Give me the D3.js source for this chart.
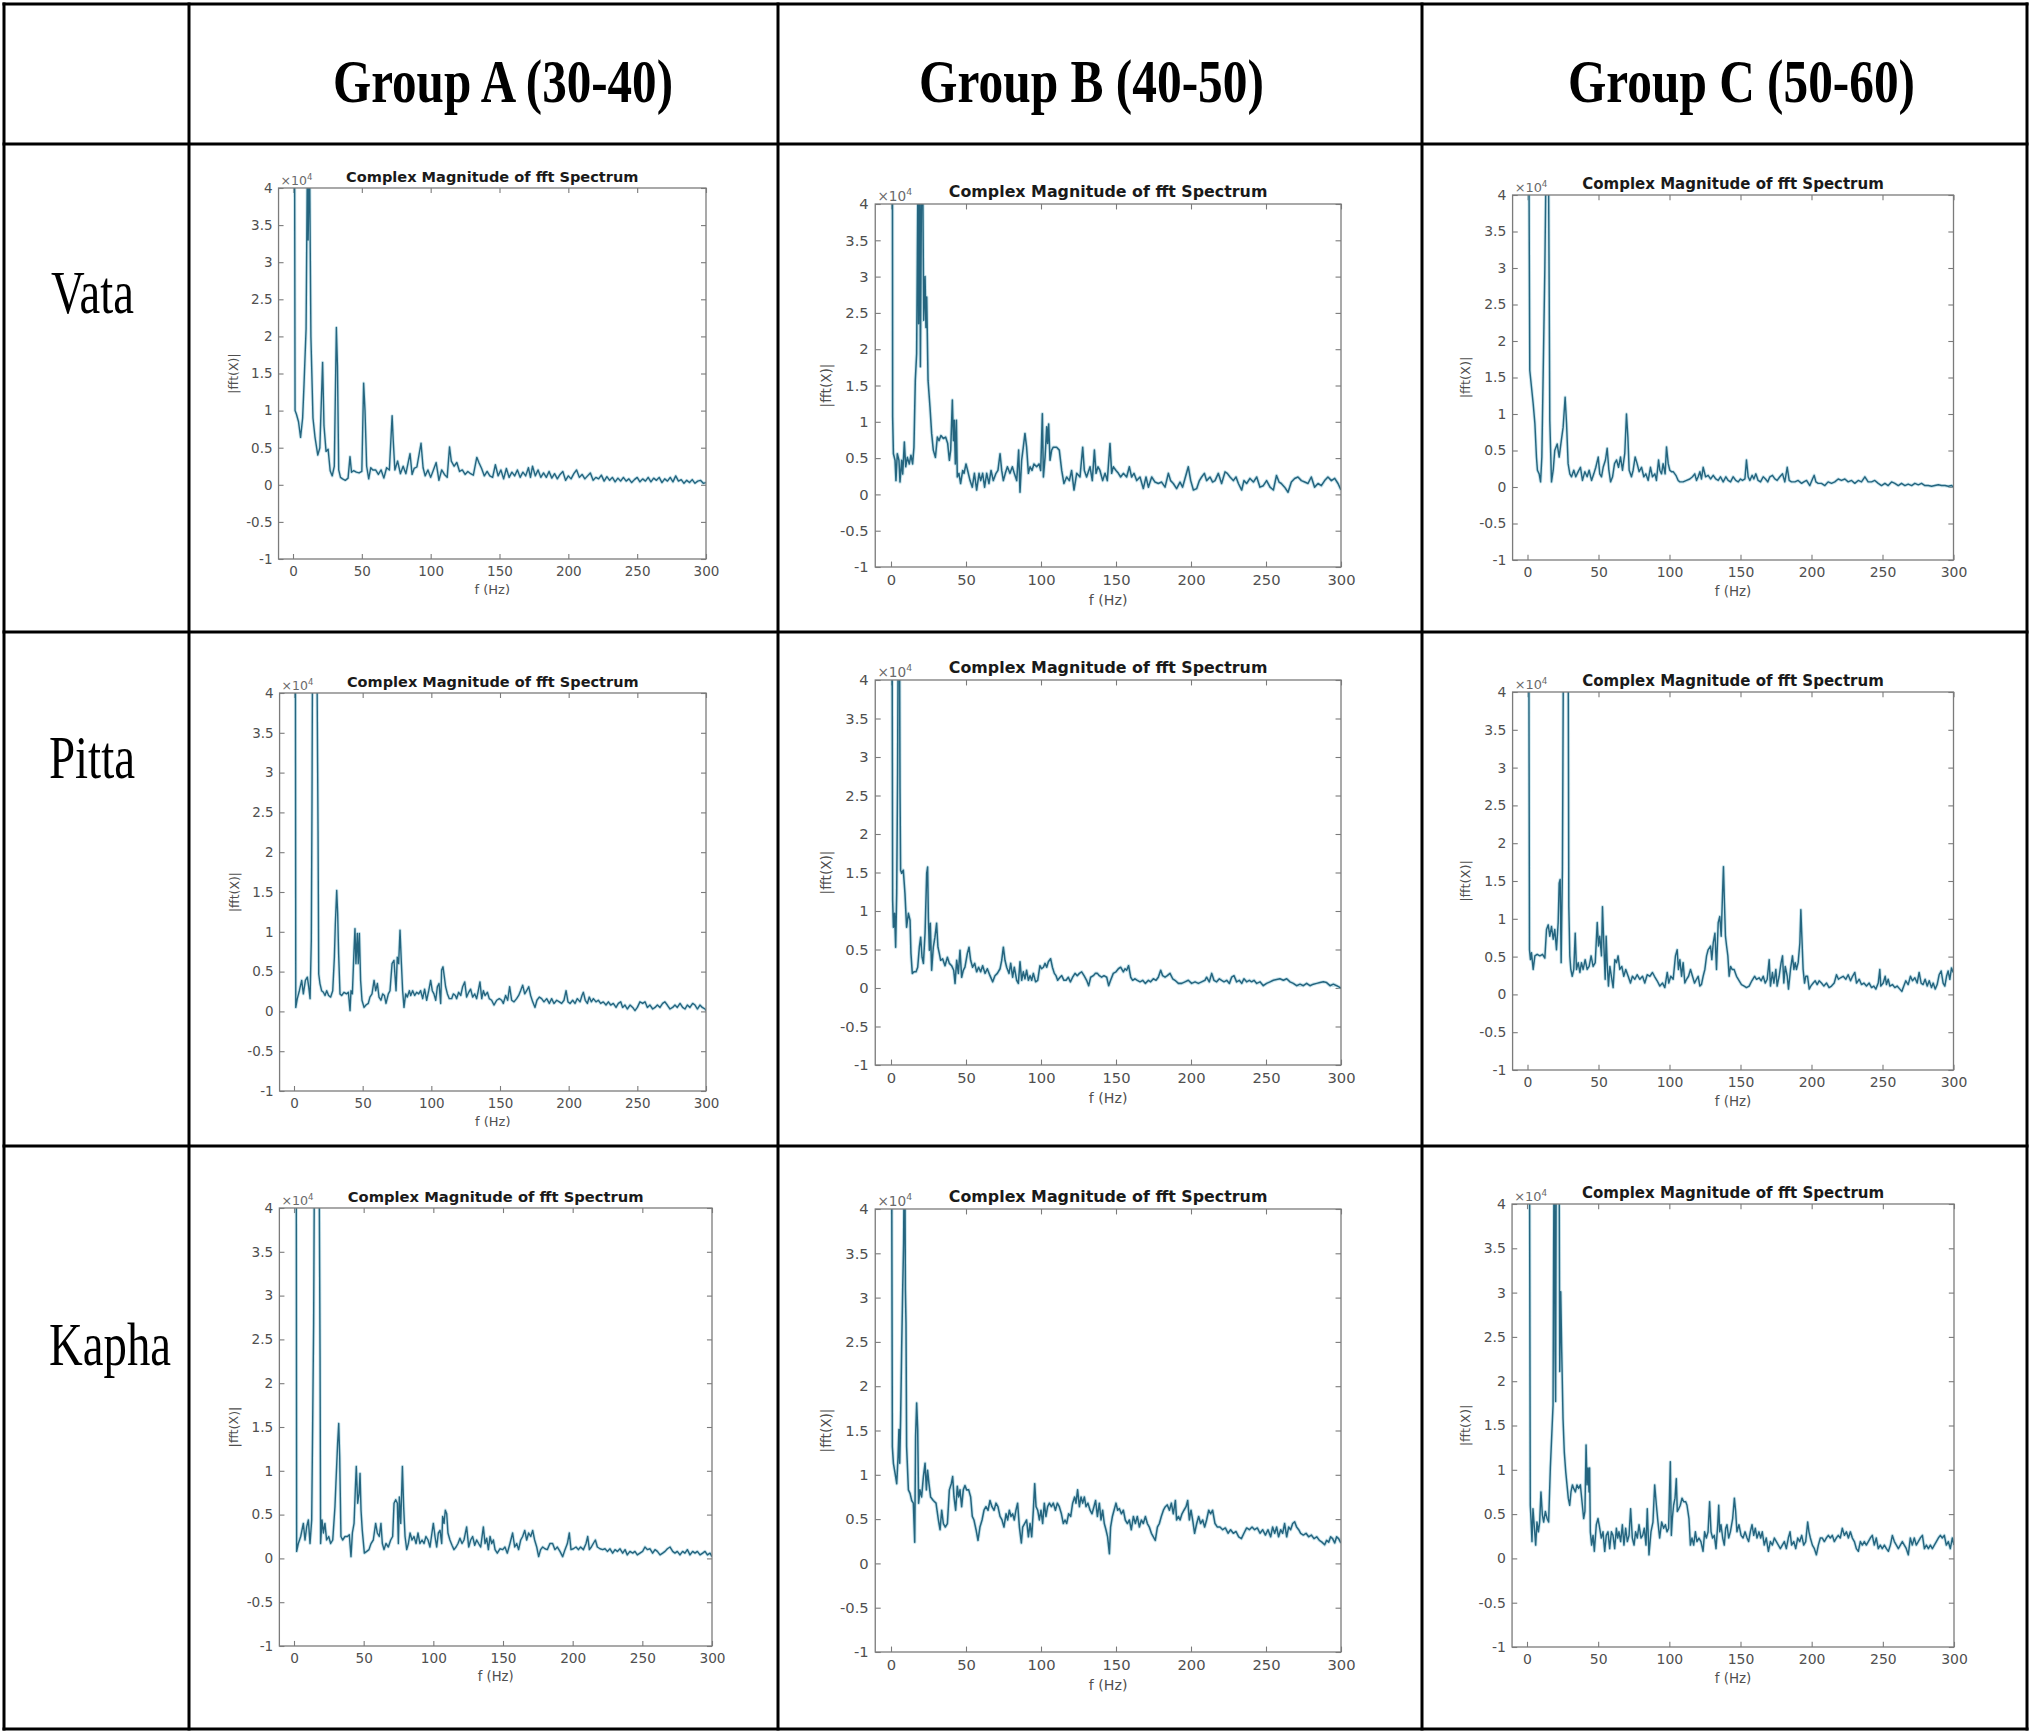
<!DOCTYPE html>
<html><head><meta charset="utf-8">
<script src="https://cdn.jsdelivr.net/npm/d3@7"></script>
<style>html,body{margin:0;padding:0;background:#fff;} svg{display:block;}</style>
</head><body>
<svg id="chart" width="2032" height="1734"></svg>
<script>
// ---------------- DATA ----------------
const groups = ["Group A (30-40)", "Group B (40-50)", "Group C (50-60)"];
const doshas = ["Vata", "Pitta", "Kapha"];
const yTicks = [-1, -0.5, 0, 0.5, 1, 1.5, 2, 2.5, 3, 3.5, 4];
const xTicks = [0, 50, 100, 150, 200, 250, 300];
const plotTitle = "Complex Magnitude of fft Spectrum";
const xLabel = "f (Hz)";
const yLabel = "|fft(X)|";
const yExponent = "4";

// [frequency Hz, |fft(X)| in units of 1e4]
const vataA = [[0,6],[1,6],[1.5,1.0],[2.5,0.95],[4,0.85],[5.5,0.64],[7,0.9],[8,1.35],[9.5,2.1],[10.5,4.5],[11,3.3],[12,4.5],[13,2.0],[14.5,0.9],[16,0.64],[18,0.4],[19.5,0.5],[21.5,1.65],[22.5,0.8],[24,0.45],[25.5,0.48],[27,0.19],[28.5,0.12],[30,0.25],[31.5,2.12],[32.3,1.6],[33.2,0.2],[34.5,0.1],[36,0.08],[38,0.06],[40,0.09],[41.4,0.38],[42.5,0.17],[44,0.19],[46,0.17],[48,0.16],[50,0.18],[51.3,1.37],[52.3,1.0],[53.5,0.25],[55,0.08],[56.5,0.23],[58,0.2],[60,0.2],[62,0.14],[64,0.2],[66,0.09],[68,0.23],[70,0.2],[72,0.93],[72.8,0.6],[74,0.2],[76,0.32],[78,0.15],[80,0.25],[82,0.15],[85,0.42],[86.5,0.14],[88,0.22],[90,0.24],[93,0.56],[94.5,0.23],[96,0.12],[98,0.2],[100,0.1],[102,0.2],[104,0.3],[106,0.06],[108,0.2],[110,0.14],[112,0.1],[113.7,0.51],[115,0.32],[117,0.25],[119,0.3],[121,0.18],[123,0.2],[125,0.14],[127,0.18],[129,0.15],[131,0.13],[133.5,0.37],[135,0.3],[137,0.22],[139,0.12],[141,0.18],[143,0.12],[145,0.1],[147,0.27],[149,0.12],[151,0.2],[153,0.08],[155,0.22],[157,0.1],[159,0.17],[161,0.12],[163,0.2],[165,0.1],[167,0.17],[169,0.12],[171,0.23],[172.5,0.1],[174,0.25],[176,0.12],[178,0.2],[180,0.1],[182,0.16],[184,0.1],[186,0.18],[188,0.09],[190,0.15],[192,0.08],[194,0.14],[196,0.18],[198,0.06],[200,0.12],[202,0.08],[204,0.15],[206,0.2],[208,0.1],[210,0.14],[212,0.08],[214,0.12],[216,0.16],[218,0.06],[220,0.1],[222,0.08],[224,0.13],[226,0.05],[228,0.11],[230,0.06],[232,0.1],[234,0.04],[236,0.09],[238,0.05],[240,0.1],[242,0.05],[244,0.08],[246,0.03],[248,0.07],[250,0.1],[252,0.04],[254,0.08],[256,0.05],[258,0.1],[260,0.04],[262,0.09],[264,0.06],[266,0.1],[268,0.03],[270,0.08],[272,0.05],[274,0.1],[276,0.04],[278,0.12],[280,0.05],[282,0.07],[284,0.02],[286,0.06],[288,0.03],[290,0.07],[292,0.02],[294,0.05],[296,0.06],[298,0.02],[300,0.03]];

const vataB = [[0,4.5],[0.9,6],[1.1,1.07],[1.6,0.56],[2.7,0.47],[3.3,0.19],[4.2,0.56],[5.3,0.47],[6,0.17],[7.1,0.47],[7.8,0.28],[8.9,0.72],[9.8,0.38],[10.9,0.51],[12.2,0.42],[13.3,0.54],[14.4,0.42],[15.3,0.65],[16.2,1.57],[17.1,1.94],[18,4.5],[18.4,2.35],[19.1,4.5],[19.6,1.76],[20.4,4.5],[21.1,4.5],[21.8,2.4],[22.7,3.0],[23.3,2.3],[23.8,2.72],[24.7,1.57],[26,1.2],[27.1,0.84],[28.2,0.61],[29.6,0.51],[30.9,0.79],[32,0.74],[33.3,0.81],[34.9,0.77],[36.4,0.79],[37.8,0.7],[38.9,0.47],[39.8,0.61],[40.9,1.3],[41.6,0.74],[42.2,1.02],[42.9,0.42],[43.6,1.02],[44.2,0.24],[45.3,0.29],[46.4,0.15],[47.8,0.33],[48.7,0.29],[50,0.42],[51.1,0.33],[52.7,0.19],[54.2,0.1],[55.6,0.29],[57.1,0.06],[58.7,0.29],[59.8,0.19],[61.1,0.29],[62.4,0.1],[63.8,0.29],[65.3,0.15],[66.7,0.33],[68.2,0.19],[70,0.29],[71.3,0.33],[72.7,0.56],[73.8,0.33],[74.9,0.19],[76.2,0.29],[77.6,0.38],[79.3,0.29],[80.9,0.38],[82.2,0.29],[83.8,0.19],[85.1,0.61],[86,0.03],[87.1,0.47],[88.2,0.65],[89.3,0.84],[90.4,0.65],[91.6,0.29],[92.7,0.38],[94,0.33],[95.3,0.42],[97.1,0.38],[98.7,0.42],[99.8,0.33],[100.9,1.11],[101.6,0.24],[102.7,0.51],[103.8,0.93],[104.4,0.7],[105.1,0.97],[106,0.47],[107.1,0.61],[108.2,0.65],[110.4,0.65],[112.2,0.61],[113.8,0.33],[115.3,0.15],[117.1,0.24],[118.9,0.19],[120.4,0.33],[122,0.06],[123.8,0.29],[126,0.24],[127.8,0.65],[128.9,0.33],[130.4,0.24],[132.7,0.38],[134.2,0.19],[135.6,0.61],[136.7,0.29],[138,0.38],[139.3,0.33],[141.1,0.19],[142.7,0.29],[144.2,0.19],[146,0.7],[147.1,0.29],[148.2,0.38],[150,0.33],[151.6,0.29],[153.1,0.24],[154.9,0.29],[157.1,0.24],[158.9,0.38],[160.4,0.24],[162,0.29],[163.8,0.19],[166,0.24],[168.2,0.08],[170,0.24],[171.6,0.1],[173.8,0.24],[176,0.17],[178.2,0.15],[180.4,0.17],[182.7,0.1],[184.9,0.29],[186.4,0.19],[188.2,0.15],[190.4,0.08],[192.7,0.17],[194.4,0.1],[196,0.22],[198.2,0.38],[199.8,0.19],[201.6,0.06],[203.8,0.08],[205.6,0.19],[207.1,0.24],[208.9,0.29],[210.4,0.19],[212.7,0.24],[214.4,0.17],[216,0.19],[218.2,0.29],[220.4,0.15],[222.7,0.31],[224.2,0.29],[226,0.24],[228.2,0.19],[230,0.24],[231.6,0.15],[233.8,0.06],[235.3,0.19],[237.1,0.15],[239.3,0.22],[241.6,0.17],[243.8,0.24],[246,0.1],[248.2,0.12],[250.4,0.19],[252.7,0.1],[254.9,0.06],[257,0.26],[258.7,0.17],[260.2,0.15],[262.4,0.1],[264.7,0.03],[266.9,0.17],[269.1,0.22],[271.3,0.24],[273.6,0.19],[275.8,0.17],[278,0.15],[280.2,0.24],[282.4,0.1],[284.7,0.15],[286.9,0.12],[289.1,0.19],[291.3,0.24],[293.6,0.19],[295.8,0.22],[298,0.15],[300,0.06]];

const vataC = [[0,5],[0.9,5],[1.6,1.6],[2.8,1.37],[4.0,1.14],[5.2,0.87],[6.3,0.41],[7.0,0.23],[8.2,0.18],[9.2,0.07],[10.1,0.41],[11.0,1.51],[12.2,2.97],[13.4,5],[14.6,5],[15.3,2.6],[15.7,0.91],[16.9,0.07],[18.1,0.23],[19.2,0.5],[20.9,0.59],[22.3,0.41],[23.5,0.59],[25.1,0.82],[26.5,1.23],[27.5,0.87],[28.6,0.32],[29.8,0.18],[31.0,0.14],[32.6,0.23],[34.0,0.14],[35.7,0.21],[37.3,0.27],[38.7,0.09],[40.4,0.21],[42.0,0.14],[43.4,0.23],[45.1,0.09],[46.7,0.18],[48.1,0.27],[49.8,0.41],[50.9,0.18],[52.1,0.14],[53.3,0.27],[54.9,0.37],[56.1,0.53],[57.3,0.23],[58.5,0.07],[59.9,0.14],[61.3,0.32],[62.7,0.37],[64.1,0.27],[65.5,0.41],[66.9,0.23],[68.5,0.46],[69.7,1.0],[70.7,0.68],[71.6,0.23],[73.2,0.14],[74.4,0.23],[75.8,0.41],[77.2,0.32],[78.6,0.21],[80.3,0.27],[81.9,0.14],[83.3,0.18],[85.0,0.09],[86.6,0.27],[88.0,0.14],[89.7,0.18],[90.8,0.09],[92.3,0.37],[93.2,0.23],[94.4,0.18],[95.5,0.32],[96.9,0.18],[97.9,0.55],[99.1,0.32],[100.2,0.23],[101.4,0.21],[102.6,0.21],[104.5,0.16],[106.1,0.09],[107.3,0.07],[109.6,0.07],[112.0,0.09],[114.3,0.11],[116.2,0.14],[117.8,0.18],[119.0,0.09],[120.2,0.14],[121.4,0.21],[122.5,0.11],[123.7,0.27],[125.4,0.14],[127.2,0.16],[128.9,0.11],[130.8,0.16],[132.6,0.11],[134.3,0.09],[135.9,0.14],[137.8,0.07],[139.7,0.14],[141.3,0.09],[143.0,0.07],[144.8,0.14],[146.7,0.09],[148.4,0.07],[150.0,0.11],[151.4,0.09],[153.1,0.11],[154.2,0.37],[155.4,0.14],[156.6,0.09],[158.2,0.16],[159.4,0.11],[160.8,0.18],[162.4,0.09],[164.1,0.07],[166.0,0.14],[167.6,0.11],[169.2,0.07],[170.7,0.14],[172.5,0.16],[174.2,0.11],[175.8,0.09],[177.7,0.14],[179.6,0.18],[181.2,0.07],[182.9,0.27],[184.3,0.09],[185.9,0.07],[188.3,0.07],[190.6,0.09],[193.0,0.05],[194.6,0.07],[196.5,0.09],[198.8,0.02],[200.7,0.11],[201.9,0.16],[203.1,0.07],[204.7,0.05],[207.0,0.05],[209.4,0.02],[211.7,0.07],[214.1,0.05],[216.4,0.07],[218.8,0.11],[221.1,0.09],[223.5,0.11],[225.8,0.07],[228.2,0.09],[230.5,0.05],[232.9,0.09],[235.2,0.07],[237.6,0.14],[239.9,0.07],[242.3,0.07],[244.6,0.09],[247.0,0.05],[249.3,0.02],[251.7,0.05],[254.0,0.02],[256.4,0.07],[258.7,0.05],[261.1,0.02],[263.4,0.05],[265.8,0.02],[268.1,0.04],[270.5,0.02],[272.8,0.05],[275.2,0.03],[277.5,0.05],[279.9,0.02],[282.2,0.02],[284.6,0.01],[286.9,0.02],[289.3,0.03],[291.6,0.02],[294.0,0.02],[296.3,0.01],[298.7,0.02],[300,0.0]];

const pittaA = [[0,5],[1.0,5],[1.3,0.05],[2.4,0.16],[3.9,0.26],[5.6,0.39],[6.8,0.22],[8.3,0.39],[9.7,0.43],[10.7,0.31],[11.7,0.16],[12.6,0.89],[13.1,2.61],[13.6,5],[15.0,5],[16.5,5],[17.5,2.27],[18.0,0.47],[18.9,0.35],[20.1,0.26],[21.4,0.24],[22.6,0.2],[23.8,0.26],[25.2,0.2],[26.7,0.18],[28.2,0.26],[29.4,0.68],[30.1,1.1],[31.1,1.52],[31.8,1.23],[32.5,0.72],[33.5,0.22],[34.7,0.2],[36.4,0.24],[38.3,0.22],[39.6,0.24],[40.8,0.01],[41.5,0.26],[42.5,0.22],[43.7,0.77],[44.4,1.04],[45.1,0.6],[46.1,0.98],[46.8,0.6],[47.6,0.98],[48.5,0.39],[49.5,0.14],[51.0,0.05],[52.4,0.08],[54.1,0.1],[55.3,0.18],[56.8,0.22],[58.3,0.39],[59.5,0.26],[60.7,0.35],[61.9,0.18],[63.3,0.14],[64.6,0.22],[65.8,0.2],[67.0,0.1],[68.7,0.22],[69.9,0.26],[71.4,0.6],[72.8,0.64],[74.3,0.26],[75.2,0.68],[76.2,0.6],[77.2,1.02],[78.2,0.6],[79.1,0.26],[80.1,0.05],[81.3,0.22],[82.5,0.18],[84.0,0.26],[85.0,0.2],[86.4,0.26],[87.9,0.2],[89.3,0.24],[90.8,0.22],[92.2,0.26],[93.7,0.16],[95.1,0.28],[96.6,0.14],[98.1,0.26],[99.5,0.39],[100.7,0.26],[101.9,0.22],[103.2,0.14],[104.4,0.31],[105.6,0.35],[106.8,0.1],[107.5,0.52],[108.5,0.56],[109.5,0.43],[110.4,0.31],[111.7,0.22],[113.1,0.16],[114.8,0.16],[116.0,0.22],[117.5,0.2],[118.4,0.16],[119.9,0.24],[121.4,0.2],[122.8,0.31],[124.3,0.37],[125.7,0.18],[127.2,0.24],[128.6,0.28],[130.1,0.18],[131.6,0.22],[133.0,0.16],[134.2,0.26],[135.4,0.37],[136.7,0.16],[137.9,0.26],[139.1,0.2],[140.8,0.24],[142.2,0.16],[143.9,0.14],[145.6,0.08],[147.6,0.14],[149.5,0.16],[151.2,0.14],[152.4,0.1],[154.1,0.2],[155.6,0.14],[157.0,0.31],[158.5,0.14],[160.2,0.12],[162.1,0.16],[163.6,0.2],[165.0,0.26],[166.5,0.33],[168.0,0.22],[169.4,0.26],[170.9,0.31],[172.3,0.2],[173.8,0.12],[175.5,0.05],[176.9,0.14],[178.6,0.18],[180.3,0.16],[182.0,0.12],[184.0,0.16],[185.9,0.1],[187.6,0.16],[189.3,0.1],[191.3,0.14],[193.2,0.12],[194.9,0.1],[196.6,0.14],[198.1,0.26],[199.5,0.12],[201.0,0.1],[202.9,0.14],[204.6,0.1],[206.3,0.16],[208.3,0.12],[209.7,0.2],[210.7,0.24],[212.1,0.14],[213.6,0.1],[215.0,0.18],[216.5,0.12],[218.0,0.16],[219.9,0.12],[221.6,0.14],[223.3,0.1],[225.2,0.12],[227.2,0.08],[228.9,0.12],[230.6,0.08],[232.5,0.1],[234.5,0.05],[236.2,0.1],[237.9,0.12],[239.3,0.05],[241.0,0.08],[242.7,0.03],[244.7,0.08],[246.6,0.05],[248.3,0.01],[250.0,0.05],[251.9,0.12],[253.9,0.1],[255.6,0.12],[257.3,0.05],[259.2,0.08],[261.2,0.03],[262.9,0.05],[264.6,0.08],[266.5,0.05],[268.4,0.1],[270.1,0.12],[271.8,0.08],[273.8,0.03],[275.7,0.05],[277.4,0.08],[279.1,0.05],[281.1,0.1],[283.0,0.05],[284.7,0.03],[286.4,0.08],[288.3,0.05],[290.3,0.1],[292.0,0.08],[293.7,0.03],[295.6,0.08],[297.3,0.05],[299.3,0.03],[300,0.01]];

const pittaB = [[0,5],[0.7,5],[1.1,1.14],[1.6,0.79],[2.4,0.97],[3.1,0.53],[3.8,1.23],[4.4,2.79],[4.9,5],[5.6,5],[6.0,2.6],[6.4,1.53],[7.1,1.49],[8.2,1.53],[9.3,1.23],[10.4,0.79],[11.6,0.97],[12.7,0.88],[13.3,0.45],[14.2,0.19],[15.3,0.21],[16.7,0.21],[17.8,0.27],[18.9,0.53],[19.8,0.66],[20.7,0.4],[21.6,0.32],[22.7,0.71],[23.8,1.49],[24.4,1.57],[24.9,0.92],[25.6,0.49],[26.2,0.84],[27.1,0.23],[28.2,0.53],[29.3,0.66],[30.4,0.84],[31.3,0.53],[32.2,0.45],[33.1,0.36],[34.4,0.38],[36.0,0.29],[37.6,0.4],[38.9,0.32],[40.4,0.29],[41.8,0.23],[42.7,0.06],[43.8,0.36],[44.9,0.19],[46.0,0.49],[47.1,0.14],[48.2,0.23],[49.3,0.27],[50.9,0.45],[52.0,0.53],[53.1,0.36],[54.4,0.27],[55.8,0.32],[57.1,0.21],[58.4,0.27],[59.8,0.21],[61.1,0.29],[62.7,0.19],[64.2,0.25],[66.0,0.16],[67.8,0.08],[69.3,0.16],[70.9,0.19],[72.7,0.25],[73.8,0.36],[74.9,0.53],[76.0,0.36],[77.1,0.27],[78.7,0.19],[79.8,0.32],[81.1,0.14],[82.2,0.27],[83.8,0.1],[84.9,0.06],[86.0,0.34],[87.1,0.1],[88.2,0.21],[89.3,0.12],[90.4,0.23],[91.6,0.1],[92.7,0.16],[93.8,0.1],[94.9,0.19],[96.4,0.08],[97.8,0.1],[99.3,0.29],[100.4,0.25],[101.6,0.27],[102.7,0.32],[103.8,0.27],[104.9,0.34],[106.4,0.38],[107.6,0.27],[108.9,0.19],[110.0,0.16],[111.1,0.1],[112.7,0.14],[113.8,0.16],[115.3,0.1],[116.7,0.1],[118.2,0.14],[119.6,0.08],[121.1,0.14],[122.7,0.19],[124.2,0.16],[125.6,0.19],[127.1,0.21],[128.7,0.16],[130.4,0.1],[131.8,0.03],[133.1,0.14],[134.9,0.16],[136.2,0.19],[137.6,0.19],[138.9,0.16],[140.4,0.14],[142.0,0.16],[143.8,0.14],[145.1,0.03],[146.4,0.1],[148.2,0.19],[150.0,0.21],[151.6,0.25],[153.1,0.27],[154.9,0.21],[156.0,0.25],[157.1,0.23],[158.4,0.29],[159.8,0.14],[161.1,0.1],[162.7,0.12],[164.2,0.1],[166.0,0.08],[167.8,0.1],[169.6,0.06],[171.6,0.1],[173.1,0.08],[174.9,0.12],[176.7,0.1],[178.2,0.14],[179.8,0.23],[181.1,0.16],[182.7,0.14],[184.2,0.16],[186.0,0.19],[187.8,0.12],[189.3,0.1],[191.6,0.06],[193.8,0.06],[196.0,0.08],[198.2,0.1],[200.4,0.06],[202.7,0.08],[204.9,0.06],[207.1,0.08],[209.3,0.1],[210.4,0.14],[212.2,0.08],[213.8,0.19],[215.3,0.1],[217.1,0.08],[218.9,0.12],[220.4,0.1],[222.0,0.08],[223.8,0.1],[225.6,0.06],[227.1,0.14],[228.7,0.16],[230.4,0.08],[232.2,0.1],[233.8,0.06],[235.3,0.12],[237.1,0.08],[238.9,0.1],[240.4,0.08],[242.0,0.1],[243.8,0.06],[246.0,0.08],[248.2,0.03],[250.4,0.06],[252.7,0.08],[254.9,0.1],[257.1,0.11],[259.3,0.12],[261.6,0.1],[263.8,0.12],[266.0,0.08],[268.2,0.06],[270.4,0.03],[272.7,0.05],[274.9,0.03],[277.1,0.06],[279.3,0.03],[281.6,0.05],[283.8,0.06],[286.0,0.07],[288.2,0.08],[290.4,0.07],[292.7,0.03],[294.9,0.05],[297.1,0.03],[300,0.0]];

const pittaC = [[0,5],[0.9,5],[1.4,0.59],[2.1,0.46],[2.8,0.55],[4.0,0.33],[5.2,0.51],[6.8,0.53],[8.7,0.51],[10.6,0.53],[12.2,0.48],[13.4,0.86],[14.6,0.92],[15.7,0.77],[16.9,0.9],[18.1,0.73],[19.2,0.86],[20.4,0.59],[21.6,0.95],[22.3,1.47],[23.0,1.52],[23.7,0.42],[24.6,1.65],[25.4,5],[26.5,5],[27.5,5],[28.6,5],[29.1,1.16],[29.8,0.51],[30.5,0.33],[31.5,0.24],[32.6,0.33],[33.6,0.81],[34.5,0.33],[35.7,0.42],[36.9,0.29],[38.0,0.42],[39.2,0.33],[40.6,0.46],[42.0,0.33],[43.4,0.37],[44.8,0.51],[46.2,0.37],[47.7,0.42],[49.1,0.95],[50.0,0.64],[50.9,0.77],[52.1,0.51],[52.8,1.16],[53.8,0.64],[54.7,0.2],[55.4,0.77],[56.1,0.42],[57.0,0.11],[58.0,0.37],[59.4,0.2],[60.3,0.09],[61.5,0.46],[62.7,0.42],[63.8,0.51],[65.0,0.33],[66.4,0.37],[67.8,0.24],[69.2,0.33],[70.9,0.24],[72.5,0.15],[73.9,0.24],[75.6,0.2],[77.2,0.26],[79.1,0.2],[81.0,0.24],[82.6,0.15],[84.3,0.26],[86.2,0.24],[88.0,0.29],[89.4,0.24],[91.3,0.18],[93.2,0.11],[95.1,0.15],[96.7,0.09],[98.4,0.29],[99.5,0.15],[100.9,0.24],[102.6,0.2],[104.2,0.51],[105.4,0.59],[106.3,0.33],[107.3,0.46],[108.5,0.24],[109.6,0.42],[110.8,0.15],[112.0,0.2],[113.4,0.24],[114.8,0.33],[116.2,0.24],[117.6,0.15],[119.0,0.2],[120.2,0.24],[121.4,0.11],[122.5,0.13],[123.7,0.24],[124.9,0.33],[126.1,0.51],[127.2,0.59],[128.9,0.64],[129.8,0.46],[130.8,0.68],[132.0,0.81],[133.1,0.33],[134.3,0.95],[135.4,1.03],[136.4,0.77],[137.3,1.3],[138.0,1.69],[138.7,1.21],[139.4,0.77],[140.2,0.64],[141.1,0.51],[142.0,0.24],[143.0,0.37],[144.1,0.33],[145.5,0.33],[147.2,0.24],[149.1,0.18],[150.7,0.13],[152.6,0.11],[154.2,0.09],[156.1,0.11],[158.0,0.18],[159.9,0.24],[161.3,0.2],[163.1,0.22],[164.6,0.18],[166.0,0.24],[167.4,0.15],[168.8,0.2],[170.2,0.46],[171.1,0.11],[172.5,0.29],[173.5,0.15],[174.9,0.33],[175.8,0.11],[177.2,0.24],[178.6,0.42],[179.6,0.51],[180.5,0.15],[181.5,0.37],[182.9,0.24],[183.8,0.07],[185.2,0.33],[186.6,0.51],[187.6,0.33],[188.5,0.42],[189.4,0.33],[190.6,0.42],[191.8,0.68],[192.5,1.12],[193.2,0.77],[194.1,0.33],[195.1,0.15],[196.0,0.24],[197.2,0.24],[198.4,0.07],[199.5,0.11],[201.2,0.15],[202.6,0.18],[204.0,0.13],[205.4,0.18],[207.0,0.15],[208.7,0.11],[210.6,0.15],[212.4,0.09],[214.1,0.11],[216.0,0.15],[217.6,0.26],[219.0,0.2],[220.4,0.22],[222.3,0.24],[224.2,0.2],[225.8,0.26],[227.5,0.18],[228.9,0.24],[230.5,0.29],[231.7,0.15],[233.6,0.2],[235.2,0.13],[236.9,0.15],[238.7,0.11],[240.6,0.15],[242.3,0.09],[243.9,0.11],[245.3,0.07],[247.0,0.15],[248.1,0.33],[248.8,0.11],[250.5,0.15],[251.9,0.24],[252.8,0.13],[254.0,0.2],[255.2,0.11],[257.0,0.13],[258.7,0.09],[260.3,0.11],[262.2,0.07],[263.6,0.04],[265.0,0.11],[266.4,0.18],[268.1,0.13],[269.7,0.24],[271.1,0.18],[272.8,0.22],[274.4,0.15],[275.8,0.29],[277.2,0.15],[278.6,0.13],[280.0,0.2],[281.5,0.11],[282.9,0.18],[284.5,0.09],[285.7,0.15],[287.1,0.07],[288.5,0.13],[289.9,0.26],[291.3,0.31],[292.7,0.15],[293.9,0.11],[295.1,0.24],[296.2,0.31],[297.4,0.2],[298.6,0.35],[299.8,0.29]];

const kaphaA = [[0,5],[1.6,5],[1.9,0.08],[3.1,0.17],[4.8,0.25],[6.7,0.4],[7.9,0.21],[9.1,0.36],[10.3,0.44],[11.5,0.17],[12.7,0.44],[13.4,1.54],[14.1,2.69],[14.8,5],[16.3,5],[17.9,5],[18.7,2.3],[19.1,0.17],[20.1,0.44],[21.1,0.29],[22.2,0.4],[23.4,0.21],[24.9,0.25],[26.3,0.17],[27.8,0.21],[29.4,0.59],[30.1,0.86],[31.3,1.31],[32.1,1.54],[32.8,1.16],[33.7,0.25],[34.9,0.21],[36.6,0.25],[38.3,0.25],[39.7,0.27],[40.9,0.02],[41.9,0.29],[43.1,0.4],[44.0,0.78],[44.7,1.05],[45.7,0.63],[46.7,0.74],[47.4,0.97],[48.1,0.55],[49.0,0.32],[50.5,0.06],[52.2,0.08],[53.8,0.1],[55.3,0.17],[56.9,0.21],[58.6,0.4],[59.8,0.29],[61.2,0.25],[62.4,0.4],[63.4,0.17],[64.6,0.1],[66.0,0.17],[67.7,0.13],[69.4,0.21],[70.8,0.25],[71.8,0.63],[73.0,0.67],[74.2,0.63],[74.9,0.17],[75.6,0.7],[76.6,0.4],[77.8,1.05],[78.7,0.59],[79.7,0.25],[80.9,0.1],[82.1,0.17],[83.3,0.29],[84.7,0.21],[86.1,0.25],[87.6,0.17],[89.0,0.29],[90.4,0.17],[91.9,0.21],[93.3,0.17],[94.7,0.25],[96.2,0.21],[97.6,0.13],[99.0,0.29],[100.0,0.4],[101.2,0.25],[102.4,0.13],[103.6,0.29],[104.8,0.32],[106.0,0.17],[106.7,0.48],[107.7,0.4],[108.6,0.55],[109.6,0.51],[110.5,0.29],[111.9,0.21],[113.4,0.15],[114.8,0.1],[116.3,0.13],[117.7,0.17],[119.1,0.23],[120.6,0.17],[122.0,0.21],[123.9,0.36],[125.4,0.13],[126.8,0.21],[128.2,0.25],[129.7,0.15],[131.1,0.21],[132.5,0.17],[134.0,0.13],[135.9,0.36],[137.1,0.17],[138.3,0.23],[139.5,0.1],[140.7,0.25],[141.9,0.17],[143.1,0.21],[144.3,0.1],[145.9,0.06],[147.8,0.11],[149.8,0.1],[151.4,0.13],[153.1,0.06],[155.0,0.17],[156.9,0.29],[158.4,0.13],[159.8,0.17],[161.2,0.1],[162.7,0.21],[164.1,0.25],[165.6,0.32],[167.0,0.21],[168.4,0.29],[169.9,0.25],[171.3,0.32],[172.7,0.21],[174.2,0.13],[175.6,0.02],[177.0,0.1],[178.5,0.13],[180.1,0.11],[181.8,0.1],[183.7,0.17],[185.6,0.17],[187.3,0.1],[189.0,0.13],[190.9,0.08],[192.8,0.02],[194.5,0.1],[196.2,0.17],[197.6,0.29],[198.8,0.1],[200.5,0.11],[202.4,0.13],[204.1,0.1],[205.7,0.13],[207.7,0.1],[209.6,0.17],[210.8,0.25],[212.0,0.1],[213.4,0.13],[214.8,0.17],[216.3,0.21],[217.7,0.13],[219.6,0.11],[221.5,0.1],[223.2,0.11],[224.9,0.08],[226.8,0.11],[228.7,0.06],[230.4,0.1],[232.1,0.08],[234.0,0.11],[235.9,0.06],[237.6,0.1],[239.2,0.04],[241.1,0.08],[243.1,0.06],[244.7,0.08],[246.4,0.04],[248.3,0.06],[250.2,0.08],[251.9,0.13],[253.6,0.1],[255.5,0.11],[257.4,0.06],[259.1,0.1],[260.8,0.08],[262.7,0.04],[264.6,0.06],[266.3,0.08],[268.0,0.11],[269.9,0.13],[271.8,0.08],[273.4,0.06],[275.1,0.08],[277.0,0.04],[278.9,0.08],[280.6,0.06],[282.3,0.1],[284.2,0.04],[286.1,0.08],[287.8,0.06],[289.5,0.08],[291.4,0.04],[293.3,0.06],[295.0,0.08],[296.7,0.04],[298.6,0.06],[300,0.02]];

const kaphaB = [[0,5],[0.4,5],[0.9,1.32],[1.6,1.13],[2.7,1.02],[3.8,0.9],[4.7,1.2],[5.3,1.51],[5.8,1.13],[6.4,1.62],[7.1,2.41],[7.8,3.09],[8.4,3.61],[9.1,5],[9.6,3.09],[10.0,2.71],[10.4,1.32],[11.6,0.83],[12.7,0.79],[13.8,0.71],[14.9,0.68],[15.8,0.24],[16.4,1.43],[17.1,1.81],[17.8,1.51],[18.4,0.68],[19.3,0.83],[20.4,0.75],[21.6,0.98],[22.7,1.13],[23.6,0.83],[24.4,1.05],[25.3,0.9],[26.4,0.75],[28.2,0.71],[30.0,0.68],[31.6,0.49],[32.7,0.38],[33.8,0.6],[34.9,0.45],[36.2,0.41],[37.6,0.45],[38.9,0.83],[40.2,0.9],[41.1,0.98],[42.0,0.75],[43.1,0.6],[44.2,0.87],[45.1,0.75],[46.0,0.83],[47.1,0.64],[48.2,0.83],[49.3,0.88],[50.4,0.83],[51.8,0.83],[53.1,0.75],[54.2,0.53],[55.3,0.49],[56.7,0.38],[58.0,0.26],[59.3,0.41],[60.7,0.49],[62.0,0.6],[63.3,0.64],[64.7,0.6],[66.0,0.71],[67.3,0.64],[68.7,0.6],[70.0,0.68],[71.3,0.64],[72.7,0.53],[74.0,0.49],[75.3,0.41],[76.7,0.56],[77.8,0.49],[78.9,0.6],[80.0,0.53],[81.1,0.56],[82.2,0.49],[83.3,0.6],[84.4,0.68],[85.6,0.41],[86.9,0.23],[87.8,0.41],[89.1,0.45],[90.4,0.49],[91.6,0.3],[92.7,0.45],[93.8,0.3],[94.9,0.6],[95.8,0.9],[96.7,0.64],[97.8,0.6],[98.9,0.49],[100.0,0.6],[101.1,0.45],[102.2,0.68],[103.3,0.53],[104.4,0.64],[105.6,0.68],[106.9,0.64],[108.2,0.68],[109.6,0.6],[110.9,0.68],[112.2,0.64],[113.6,0.56],[114.9,0.45],[116.0,0.49],[117.1,0.45],[118.4,0.56],[119.8,0.53],[121.1,0.68],[122.4,0.75],[123.3,0.68],[124.4,0.83],[125.6,0.64],[126.7,0.75],[127.8,0.68],[128.9,0.75],[130.0,0.64],[131.3,0.68],[132.7,0.6],[134.0,0.56],[135.3,0.64],[136.4,0.71],[137.6,0.53],[138.9,0.68],[140.0,0.49],[141.1,0.6],[142.2,0.45],[143.3,0.38],[144.4,0.3],[145.6,0.11],[146.4,0.41],[147.6,0.53],[148.7,0.6],[150.0,0.68],[151.1,0.6],[152.2,0.62],[153.6,0.56],[154.9,0.6],[156.2,0.49],[157.6,0.45],[158.9,0.49],[160.2,0.38],[161.6,0.53],[162.9,0.45],[164.2,0.53],[165.6,0.41],[166.9,0.49],[168.2,0.45],[169.6,0.53],[170.9,0.45],[172.2,0.41],[173.6,0.34],[174.9,0.3],[176.2,0.26],[177.6,0.41],[178.9,0.45],[180.2,0.53],[181.6,0.6],[182.9,0.64],[184.2,0.66],[185.6,0.6],[186.9,0.68],[188.2,0.56],[189.6,0.71],[190.4,0.49],[191.6,0.53],[192.7,0.49],[194.0,0.56],[195.3,0.6],[196.7,0.64],[197.8,0.71],[198.9,0.49],[200.0,0.6],[201.1,0.49],[202.4,0.34],[203.8,0.45],[205.1,0.53],[206.4,0.45],[207.8,0.49],[209.1,0.41],[210.4,0.49],[211.8,0.6],[213.1,0.56],[214.4,0.6],[216.0,0.45],[217.6,0.41],[219.3,0.41],[221.1,0.38],[222.9,0.4],[224.7,0.34],[226.4,0.38],[228.2,0.34],[230.0,0.36],[231.8,0.3],[233.6,0.28],[235.3,0.34],[237.1,0.4],[238.9,0.38],[240.7,0.41],[242.4,0.38],[244.2,0.4],[246.0,0.34],[247.8,0.38],[249.6,0.32],[251.3,0.38],[253.1,0.3],[254.4,0.41],[255.8,0.34],[257.1,0.41],[258.4,0.3],[259.8,0.38],[261.1,0.34],[262.4,0.45],[263.8,0.3],[265.1,0.41],[266.4,0.38],[267.8,0.45],[269.1,0.47],[270.4,0.41],[271.8,0.38],[273.1,0.34],[274.9,0.32],[276.7,0.34],[278.4,0.3],[280.2,0.32],[282.0,0.28],[283.8,0.3],[285.6,0.26],[287.3,0.24],[289.1,0.21],[290.4,0.26],[291.8,0.24],[293.1,0.3],[294.4,0.28],[295.8,0.23],[297.1,0.3],[298.4,0.28],[300,0.23]];

const kaphaC = [[0,5],[1.7,5],[2.3,0.6],[2.8,0.45],[3.5,0.19],[4.2,0.56],[5.2,0.34],[6.1,0.15],[7.0,0.41],[8.0,0.3],[8.9,0.41],[9.8,0.75],[10.8,0.49],[11.7,0.41],[12.9,0.53],[14.1,0.45],[15.2,0.41],[16.4,1.02],[17.6,1.47],[18.3,1.73],[18.7,3.46],[19.2,5],[19.7,2.33],[20.1,1.77],[20.6,5],[21.5,5],[22.5,5],[23.0,2.11],[23.7,3.01],[24.4,2.33],[25.3,1.58],[26.2,1.2],[27.2,0.98],[28.1,0.83],[29.0,0.68],[30.0,0.6],[30.9,0.75],[31.9,0.83],[32.8,0.79],[34.0,0.75],[35.1,0.83],[36.3,0.79],[37.5,0.83],[38.9,0.6],[39.8,0.45],[40.7,0.53],[41.5,1.28],[42.2,0.83],[42.9,1.02],[43.6,0.75],[44.0,1.02],[44.5,0.3],[45.4,0.15],[46.4,0.26],[47.3,0.08],[48.7,0.38],[49.9,0.45],[51.1,0.34],[52.2,0.23],[53.4,0.3],[54.6,0.08],[55.7,0.26],[56.9,0.3],[58.1,0.11],[59.3,0.3],[60.4,0.26],[61.6,0.11],[62.8,0.34],[63.7,0.23],[64.6,0.3],[65.8,0.19],[67.0,0.38],[68.1,0.15],[69.3,0.34],[70.5,0.19],[71.7,0.26],[72.8,0.56],[74.0,0.23],[75.2,0.15],[76.3,0.3],[77.5,0.23],[78.7,0.38],[80.1,0.23],[81.3,0.26],[82.4,0.34],[83.6,0.15],[84.5,0.56],[85.7,0.04],[87.1,0.3],[88.5,0.41],[89.7,0.83],[90.9,0.6],[92.0,0.41],[93.2,0.23],[94.6,0.41],[96.0,0.34],[97.2,0.38],[98.4,0.3],[99.5,0.34],[100.7,1.09],[101.4,0.26],[102.1,0.45],[103.0,0.6],[104.0,0.68],[104.9,0.9],[105.6,0.53],[106.6,0.56],[107.7,0.6],[108.9,0.68],[110.1,0.64],[111.5,0.64],[112.4,0.6],[113.8,0.45],[114.8,0.15],[115.9,0.23],[117.1,0.15],[118.3,0.3],[119.4,0.19],[120.8,0.23],[122.2,0.19],[123.7,0.08],[124.8,0.3],[126.0,0.23],[127.2,0.3],[128.3,0.64],[129.3,0.3],[130.4,0.23],[131.6,0.26],[132.8,0.11],[134.0,0.38],[134.7,0.6],[135.4,0.3],[136.3,0.38],[137.5,0.23],[138.6,0.15],[139.6,0.34],[140.5,0.38],[141.7,0.23],[142.9,0.3],[144.5,0.45],[145.7,0.68],[146.6,0.53],[147.5,0.3],[148.9,0.38],[150.4,0.26],[151.8,0.23],[153.2,0.3],[154.6,0.23],[155.7,0.19],[156.9,0.3],[158.1,0.38],[159.3,0.26],[160.4,0.34],[161.6,0.23],[163.0,0.3],[164.2,0.23],[165.3,0.3],[166.7,0.15],[168.1,0.23],[169.6,0.08],[171.0,0.19],[172.4,0.15],[173.8,0.23],[175.2,0.19],[176.6,0.15],[178.0,0.11],[179.4,0.15],[180.8,0.19],[182.2,0.11],[183.6,0.23],[184.8,0.3],[185.9,0.15],[187.4,0.19],[188.8,0.11],[190.2,0.23],[191.6,0.19],[193.0,0.26],[194.4,0.15],[195.8,0.19],[197.2,0.41],[198.1,0.3],[199.1,0.23],[200.5,0.15],[201.9,0.11],[203.3,0.04],[204.7,0.15],[206.1,0.23],[207.5,0.23],[208.9,0.19],[210.3,0.23],[211.7,0.26],[213.1,0.23],[214.5,0.26],[215.9,0.19],[217.3,0.23],[218.7,0.26],[220.1,0.23],[221.5,0.34],[223.0,0.26],[224.4,0.3],[225.8,0.23],[227.2,0.3],[228.6,0.23],[230.0,0.19],[231.4,0.11],[232.8,0.08],[234.2,0.19],[235.6,0.15],[237.0,0.19],[238.4,0.15],[239.8,0.19],[241.2,0.23],[242.6,0.26],[244.0,0.15],[245.4,0.23],[246.8,0.11],[248.2,0.15],[249.6,0.11],[251.1,0.15],[252.5,0.11],[253.9,0.08],[255.3,0.15],[256.7,0.26],[258.1,0.19],[259.5,0.15],[260.9,0.11],[262.3,0.15],[263.7,0.19],[265.1,0.15],[266.5,0.11],[267.9,0.04],[269.3,0.23],[270.7,0.15],[272.1,0.23],[273.5,0.15],[274.9,0.19],[276.3,0.23],[277.8,0.26],[279.2,0.11],[280.6,0.15],[282.0,0.11],[283.4,0.15],[284.8,0.11],[286.2,0.15],[287.6,0.19],[289.0,0.23],[290.4,0.26],[291.8,0.23],[293.2,0.26],[294.6,0.15],[296.0,0.19],[297.4,0.11],[298.8,0.23],[300,0.15]];

const seriesGrid = [[vataA, vataB, vataC], [pittaA, pittaB, pittaC], [kaphaA, kaphaB, kaphaC]];

// ---------------- LAYOUT ----------------
const colLines = [4, 189, 778, 1422, 2027];
const rowLines = [4, 144, 632, 1146, 1729];
const headerPos = [{x:333, w:340}, {x:919, w:345}, {x:1568, w:347}];
const headerBaseline = 102;
const rowLabelPos = [{x:51, y:313, w:83}, {x:49, y:778, w:86}, {x:49, y:1365, w:122}];
// pixel positions of f=0, f=300, |X|=4 and |X|=-1 for each panel
const panelGeom = [
  [{x0:293, x300:706, y4:188, ym1:559}, {x0:891, x300:1341, y4:204, ym1:567}, {x0:1527.5, x300:1953.5, y4:195, ym1:560}],
  [{x0:294, x300:706, y4:693, ym1:1091}, {x0:891, x300:1341, y4:680, ym1:1065}, {x0:1527.5, x300:1953.5, y4:692, ym1:1070}],
  [{x0:294, x300:712, y4:1208, ym1:1646}, {x0:891, x300:1341, y4:1209, ym1:1652}, {x0:1527, x300:1954, y4:1204, ym1:1647}]
];
const X_MIN = -10.5;
const LINE_COLOR = "#25657f";
const HALO_COLOR = "#9fd0de";
const AXIS_COLOR = "#7b7b7b";
const TICK_TEXT = "#4f4f4f";
const SANS = "'DejaVu Sans', 'Liberation Sans', sans-serif";
const SERIF = "'Liberation Serif', 'Times New Roman', serif";

const svg = d3.select("#chart");
svg.append("rect").attr("width", 2032).attr("height", 1734).attr("fill", "#fff");

// ---------------- PANELS ----------------
let clipId = 0;
seriesGrid.forEach((rowSeries, r) => {
  rowSeries.forEach((data, c) => {
    const g0 = panelGeom[r][c];
    const x = d3.scaleLinear().domain([0, 300]).range([g0.x0, g0.x300]);
    const y = d3.scaleLinear().domain([-1, 4]).range([g0.ym1, g0.y4]);
    const left = x(X_MIN), right = x(300), top = y(4), bottom = y(-1);
    const w = right - left;
    const k = w / 427;
    const g = svg.append("g");

    const cid = "clip" + (clipId++);
    g.append("clipPath").attr("id", cid).append("rect")
      .attr("x", left).attr("y", top).attr("width", w).attr("height", bottom - top);

    // axes
    const tickLen = 5 * k;
    const fs = 13.5 * k;
    const axL = g.append("g").attr("transform", `translate(${left},0)`)
      .call(d3.axisLeft(y).tickValues(yTicks).tickSizeInner(-tickLen).tickSizeOuter(0).tickPadding(6 * k)
        .tickFormat(d => String(d)));
    const axR = g.append("g").attr("transform", `translate(${right},0)`)
      .call(d3.axisRight(y).tickValues(yTicks).tickSizeInner(-tickLen).tickSizeOuter(0).tickFormat(""));
    const axB = g.append("g").attr("transform", `translate(0,${bottom})`)
      .call(d3.axisBottom(x).tickValues(xTicks).tickSizeInner(-tickLen).tickSizeOuter(0).tickPadding(7 * k)
        .tickFormat(d => String(d)));
    const axT = g.append("g").attr("transform", `translate(0,${top})`)
      .call(d3.axisTop(x).tickValues(xTicks).tickSizeInner(-tickLen).tickSizeOuter(0).tickFormat(""));
    [axL, axR, axB, axT].forEach(a => {
      a.select(".domain").remove();
      a.selectAll("line").attr("stroke", AXIS_COLOR).attr("stroke-width", 1.1);
      a.selectAll("text").attr("fill", TICK_TEXT).style("font-family", SANS).style("font-size", fs + "px");
    });
    axB.selectAll("text").attr("dy", "0.71em");

    // data line (soft halo + core)
    const line = d3.line().x(d => x(d[0])).y(d => y(d[1]));
    g.append("path").datum(data).attr("clip-path", `url(#${cid})`)
      .attr("d", line).attr("fill", "none").attr("stroke", HALO_COLOR).attr("stroke-opacity", 0.55)
      .attr("stroke-width", 3.2 * k).attr("stroke-linejoin", "round");
    g.append("path").datum(data).attr("clip-path", `url(#${cid})`)
      .attr("d", line).attr("fill", "none").attr("stroke", LINE_COLOR)
      .attr("stroke-width", 1.4 * k).attr("stroke-linejoin", "round");

    // box outline
    g.append("rect").attr("x", left).attr("y", top).attr("width", w).attr("height", bottom - top)
      .attr("fill", "none").attr("stroke", AXIS_COLOR).attr("stroke-width", 1.3);

    // title
    g.append("text").attr("x", left + w / 2 - 0.342 * w).attr("y", top - 6 * k)
      .attr("textLength", 0.684 * w).attr("lengthAdjust", "spacingAndGlyphs")
      .style("font-family", SANS).style("font-weight", "bold").style("font-size", (14.5 * k) + "px")
      .attr("fill", "#1a1a1a").text(plotTitle);

    // exponent label
    const ex = g.append("text").attr("x", left + 2 * k).attr("y", top - 3 * k)
      .style("font-family", SANS).style("font-size", (12.5 * k) + "px").attr("fill", "#6a6a6a");
    ex.append("tspan").text("\u00d710");
    ex.append("tspan").attr("dy", -5 * k).style("font-size", (8.5 * k) + "px").text(yExponent);

    // axis labels
    g.append("text").attr("x", left + w / 2).attr("y", bottom + 35 * k).attr("text-anchor", "middle")
      .style("font-family", SANS).style("font-size", (13 * k) + "px").attr("fill", TICK_TEXT).text(xLabel);
    const ly = (top + bottom) / 2;
    const lx = left - 41 * k;
    g.append("text").attr("transform", `translate(${lx},${ly}) rotate(-90)`).attr("text-anchor", "middle")
      .style("font-family", SANS).style("font-size", (12.5 * k) + "px").attr("fill", TICK_TEXT).text(yLabel);
  });
});

// ---------------- TABLE ----------------
const tbl = svg.append("g");
colLines.forEach(cx => tbl.append("line").attr("x1", cx).attr("x2", cx)
  .attr("y1", rowLines[0] - 1.5).attr("y2", rowLines[rowLines.length - 1] + 1.5)
  .attr("stroke", "#000").attr("stroke-width", 3));
rowLines.forEach(ry => tbl.append("line").attr("y1", ry).attr("y2", ry)
  .attr("x1", colLines[0] - 1.5).attr("x2", colLines[colLines.length - 1] + 1.5)
  .attr("stroke", "#000").attr("stroke-width", 3));

groups.forEach((name, i) => {
  tbl.append("text").attr("x", headerPos[i].x).attr("y", headerBaseline)
    .attr("textLength", headerPos[i].w).attr("lengthAdjust", "spacingAndGlyphs")
    .style("font-family", SERIF).style("font-weight", "bold").style("font-size", "62px")
    .attr("fill", "#000").text(name);
});
doshas.forEach((name, i) => {
  tbl.append("text").attr("x", rowLabelPos[i].x).attr("y", rowLabelPos[i].y)
    .attr("textLength", rowLabelPos[i].w).attr("lengthAdjust", "spacingAndGlyphs")
    .style("font-family", SERIF).style("font-size", "62px")
    .attr("fill", "#000").text(name);
});
</script>
</body></html>
